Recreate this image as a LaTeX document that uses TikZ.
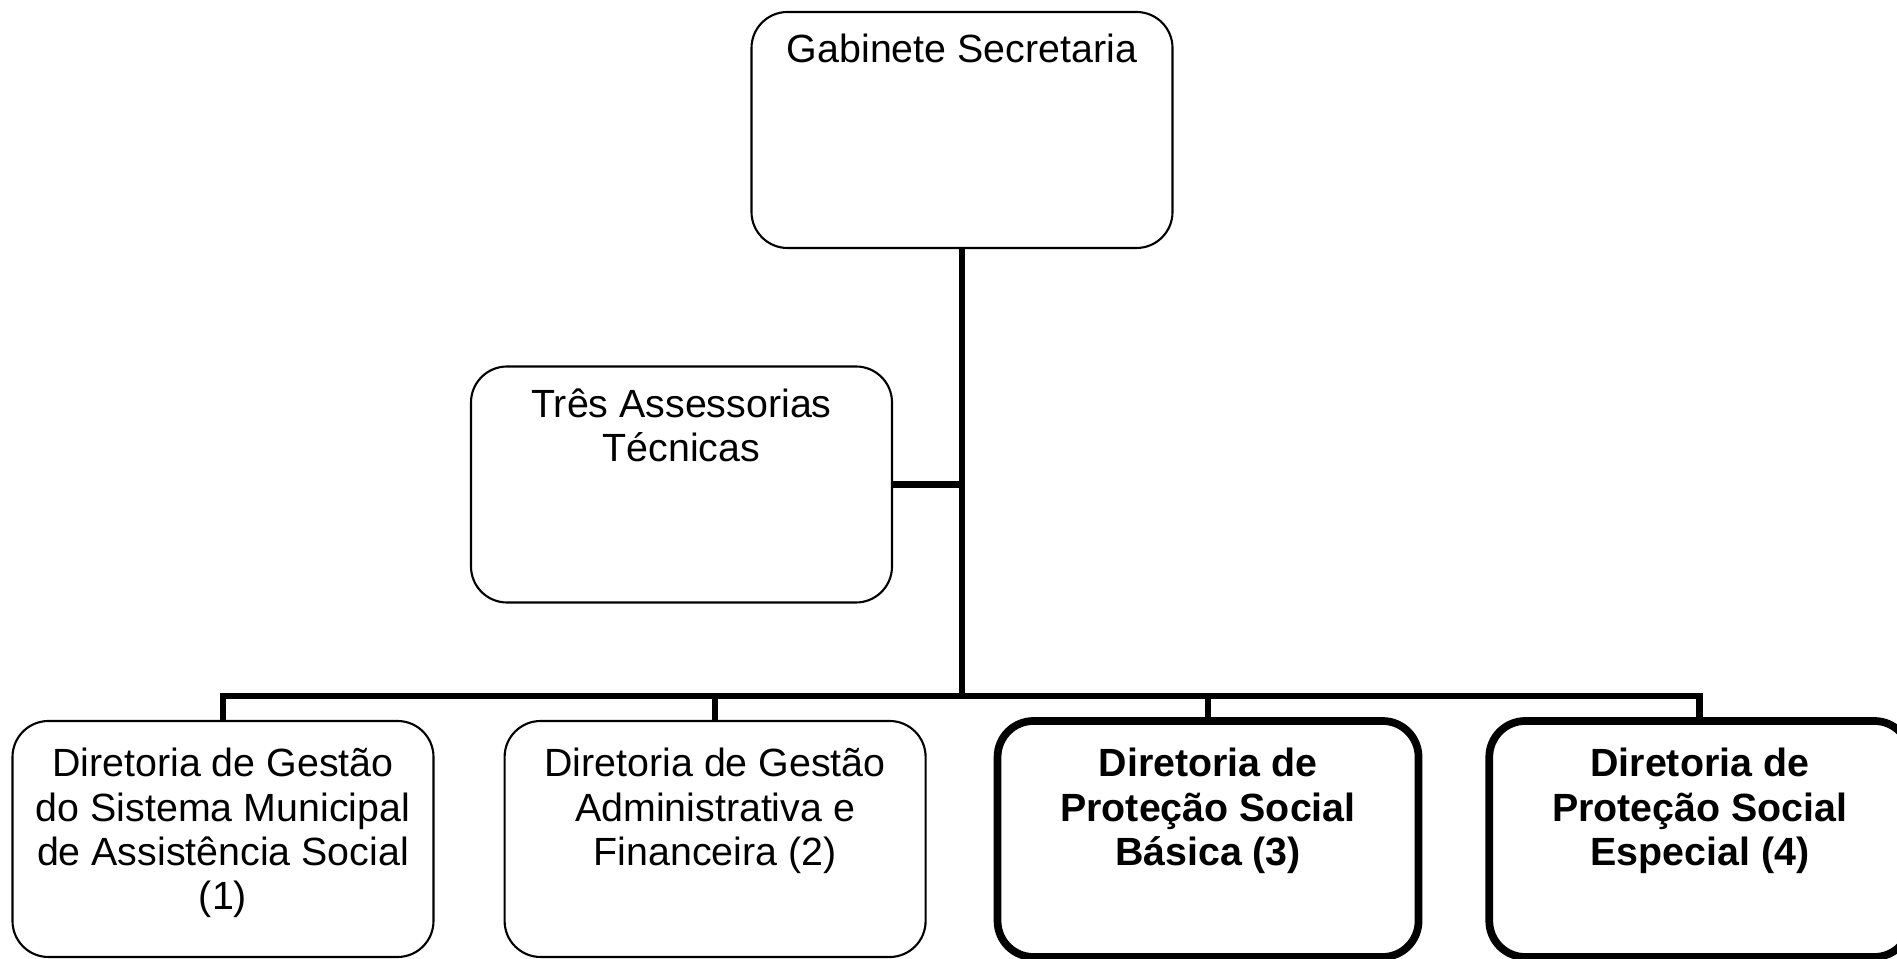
\documentclass[tikz,border=0pt]{standalone}
\usepackage{fontspec}
\setmainfont{Liberation Sans}
\usepackage{tikz}
\usetikzlibrary{positioning}
\tikzset{orgbox/.style = {draw, line width=0.6pt, rounded corners=0.36cm,
                          minimum width=4.21cm, minimum height=2.36cm, inner sep=0pt}}
\tikzset{orgboxb/.style = {orgbox, line width=2.2pt, font=\bfseries}}
\tikzset{link/.style = {line width=1.9pt}}
\newcommand{\boxtxt}[2][0.51cm]{\parbox[c][2.36cm][t]{4.15cm}{\centering
    \fontsize{11.2pt}{12.6pt}\selectfont\rule{0pt}{#1}#2}}

\begin{document}
\begin{tikzpicture}
      \useasboundingbox (0, 0) rectangle (18.97, 9.59);
      \node[orgbox] (gab) at (9.62, 8.29) {\boxtxt{Gabinete Secretaria}};
      \node[orgbox] (ass) at (6.815, 4.745) {\boxtxt{Três Assessorias\\Técnicas}};
      \node[orgbox] (d1) at (2.23, 1.2)
            {\boxtxt[0.56cm]{Diretoria de Gestão\\do Sistema Municipal\\de Assistência Social\\(1)}};
      \node[orgbox, right=0.69cm of d1] (d2)
            {\boxtxt[0.56cm]{Diretoria de Gestão\\Administrativa e\\Financeira (2)}};
      \node[orgboxb, right=0.67cm of d2] (d3)
            {\boxtxt[0.56cm]{Diretoria de\\Proteção Social\\Básica (3)}};
      \node[orgboxb, right=0.63cm of d3] (d4)
            {\boxtxt[0.56cm]{Diretoria de\\Proteção Social\\Especial (4)}};
      \coordinate (bus) at (9.62, 2.63);
      \draw[link] (gab.south) -- (bus);
      \draw[link] (ass.east) -- (ass.east -| bus);
      \draw[link] (d1.north) |- (bus) -| (d4.north);
      \draw[link] (d2.north) -- (d2.north |- bus);
      \draw[link] (d3.north) -- (d3.north |- bus);
    \end{tikzpicture}
\end{document}
